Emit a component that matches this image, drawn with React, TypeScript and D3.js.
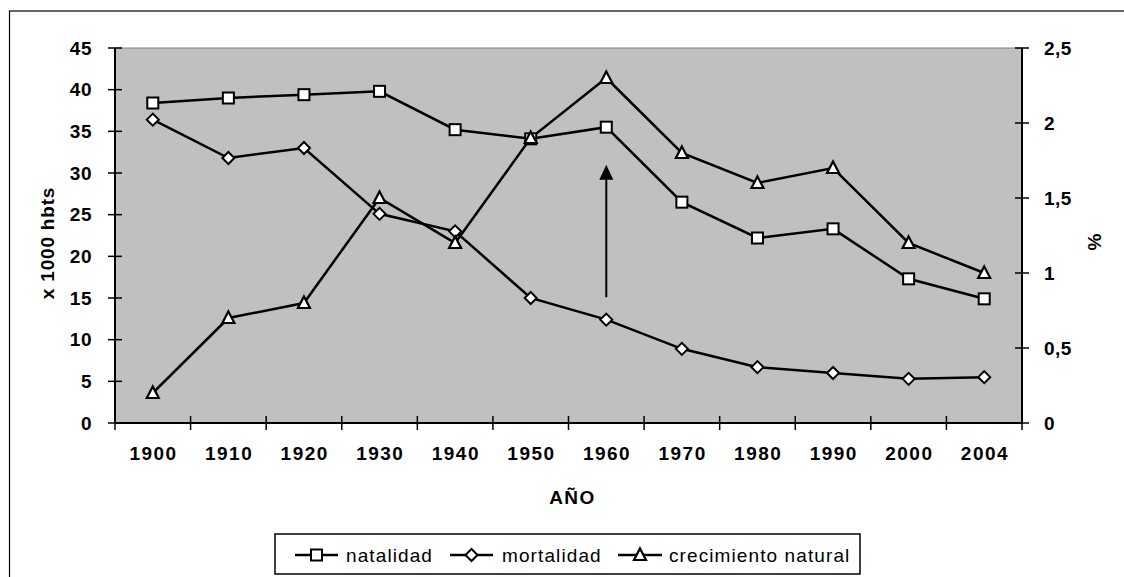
import React from "react";
import * as d3 from "d3";

const years = ["1900", "1910", "1920", "1930", "1940", "1950", "1960", "1970", "1980", "1990", "2000", "2004"];
const natalidad = [38.4, 39.0, 39.4, 39.8, 35.2, 34.1, 35.5, 26.5, 22.2, 23.3, 17.3, 14.9];
const mortalidad = [36.4, 31.8, 33.0, 25.1, 23.0, 15.0, 12.4, 8.9, 6.7, 6.0, 5.3, 5.5];
const crecimiento = [0.2, 0.7, 0.8, 1.5, 1.2, 1.9, 2.3, 1.8, 1.6, 1.7, 1.2, 1.0];
const leftTicks = [0, 5, 10, 15, 20, 25, 30, 35, 40, 45];
const rightTicks = [0, 0.5, 1, 1.5, 2, 2.5];
const arrowYear = "1960";
const arrowFrom = 15.1;
const arrowTo = 31.0;

const W = 1124, H = 577;
const L = 115, R = 1022, T = 48, B = 423;

export default function App() {
  const x = d3.scaleBand().domain(years).range([L, R]).padding(0);
  const cx = (y: string) => (x(y) as number) + x.bandwidth() / 2;
  const yL = d3.scaleLinear().domain([0, 45]).range([B, T]);
  const yR = d3.scaleLinear().domain([0, 2.5]).range([B, T]);
  const lineL = d3.line<number>().x((_, i) => cx(years[i])).y((d) => yL(d));
  const lineR = d3.line<number>().x((_, i) => cx(years[i])).y((d) => yR(d));
  const font = "Arial, 'Liberation Sans', sans-serif";
  const fmt = (v: number) => String(v).replace(".", ",");
  const ls = 1.5;

  const square = (px: number, py: number, k: string) => (
    <rect key={k} x={px - 5.5} y={py - 5.5} width={11} height={11} fill="#fff" stroke="#000" strokeWidth={2} />
  );
  const diamond = (px: number, py: number, k: string) => (
    <path key={k} d={`M${px},${py - 6}L${px + 6},${py}L${px},${py + 6}L${px - 6},${py}Z`} fill="#fff" stroke="#000" strokeWidth={2} />
  );
  const tri = (px: number, py: number, k: string) => (
    <path key={k} d={`M${px},${py - 6.5}L${px + 6},${py + 5}L${px - 6},${py + 5}Z`} fill="#fff" stroke="#000" strokeWidth={2.2} />
  );

  const ax = cx(arrowYear);
  const legendY = 555;

  return (
    <svg width={W} height={H} style={{ position: "absolute", left: 0, top: 0 }} fontFamily={font}>
      <rect x={0} y={0} width={W} height={H} fill="#fff" />
      <rect x={9.5} y={11} width={1120} height={580} fill="#fff" stroke="#000" strokeWidth={1.2} />
      <rect x={L} y={T} width={R - L} height={B - T} fill="#c0c0c0" />
      <line x1={L} x2={R} y1={T} y2={T} stroke="#808080" strokeWidth={1} />
      <line x1={L} x2={L} y1={T} y2={B} stroke="#000" strokeWidth={2} />
      <line x1={R} x2={R} y1={T} y2={B} stroke="#000" strokeWidth={2} />
      <line x1={L} x2={R} y1={B} y2={B} stroke="#000" strokeWidth={2} />
      {leftTicks.map((t) => (
        <g key={"l" + t}>
          <line x1={L - 7} x2={L + 7} y1={yL(t)} y2={yL(t)} stroke="#000" strokeWidth={1.5} />
          <text x={92} y={yL(t)} dy="0.35em" textAnchor="end" fontSize={19} fontWeight="bold" letterSpacing={0.5}>{t}</text>
        </g>
      ))}
      {rightTicks.map((t) => (
        <g key={"r" + t}>
          <line x1={R - 7} x2={R + 7} y1={yR(t)} y2={yR(t)} stroke="#000" strokeWidth={1.5} />
          <text x={1044} y={yR(t)} dy="0.35em" textAnchor="start" fontSize={19} fontWeight="bold" letterSpacing={0.5}>{fmt(t)}</text>
        </g>
      ))}
      {years.map((yr, i) => (
        <g key={"x" + yr}>
          <line x1={(x(yr) as number)} x2={(x(yr) as number)} y1={B - 7} y2={B + 7} stroke="#000" strokeWidth={1.5} />
          {i === years.length - 1 && <line x1={R} x2={R} y1={B - 7} y2={B + 7} stroke="#000" strokeWidth={1.5} />}
          <text x={cx(yr) + ls / 2} y={453} dy="0.35em" textAnchor="middle" fontSize={19} fontWeight="bold" letterSpacing={ls}>{yr}</text>
        </g>
      ))}
      <text x={(L + R) / 2 + 4} y={497} dy="0.35em" textAnchor="middle" fontSize={19} fontWeight="bold" letterSpacing={ls}>AÑO</text>
      <text transform={`translate(47,243) rotate(-90)`} textAnchor="middle" dy="0.35em" fontSize={19} fontWeight="bold" letterSpacing={0.8}>x 1000 hbts</text>
      <text transform={`translate(1094,242) rotate(-90)`} textAnchor="middle" dy="0.35em" fontSize={19} fontWeight="bold">%</text>

      <path d={lineL(natalidad) || ""} fill="none" stroke="#000" strokeWidth={2.5} />
      <path d={lineL(mortalidad) || ""} fill="none" stroke="#000" strokeWidth={2.5} />
      <path d={lineR(crecimiento) || ""} fill="none" stroke="#000" strokeWidth={2.5} />
      {mortalidad.map((v, i) => diamond(cx(years[i]), yL(v), "m" + i))}
      {natalidad.map((v, i) => square(cx(years[i]), yL(v), "n" + i))}
      {crecimiento.map((v, i) => tri(cx(years[i]), yR(v), "c" + i))}

      <line x1={ax} x2={ax} y1={yL(arrowFrom)} y2={yL(arrowTo) + 12} stroke="#000" strokeWidth={2} />
      <path d={`M${ax},${yL(arrowTo)}L${ax + 7},${yL(arrowTo) + 15}L${ax - 7},${yL(arrowTo) + 15}Z`} fill="#000" />

      <rect x={275} y={534} width={585} height={40} fill="#fff" stroke="#000" strokeWidth={1.5} />
      <line x1={295} x2={338} y1={legendY} y2={legendY} stroke="#000" strokeWidth={2.5} />
      {square(316.5, legendY, "ls")}
      <text x={346} y={legendY} dy="0.35em" fontSize={19} letterSpacing={1.1}>natalidad</text>
      <line x1={450} x2={493} y1={legendY} y2={legendY} stroke="#000" strokeWidth={2.5} />
      {diamond(471.5, legendY, "ld")}
      <text x={502} y={legendY} dy="0.35em" fontSize={19} letterSpacing={1.1}>mortalidad</text>
      <line x1={618} x2={662} y1={legendY} y2={legendY} stroke="#000" strokeWidth={2.5} />
      {tri(640, legendY, "lt")}
      <text x={669} y={legendY} dy="0.35em" fontSize={19} letterSpacing={1.1}>crecimiento natural</text>
    </svg>
  );
}
